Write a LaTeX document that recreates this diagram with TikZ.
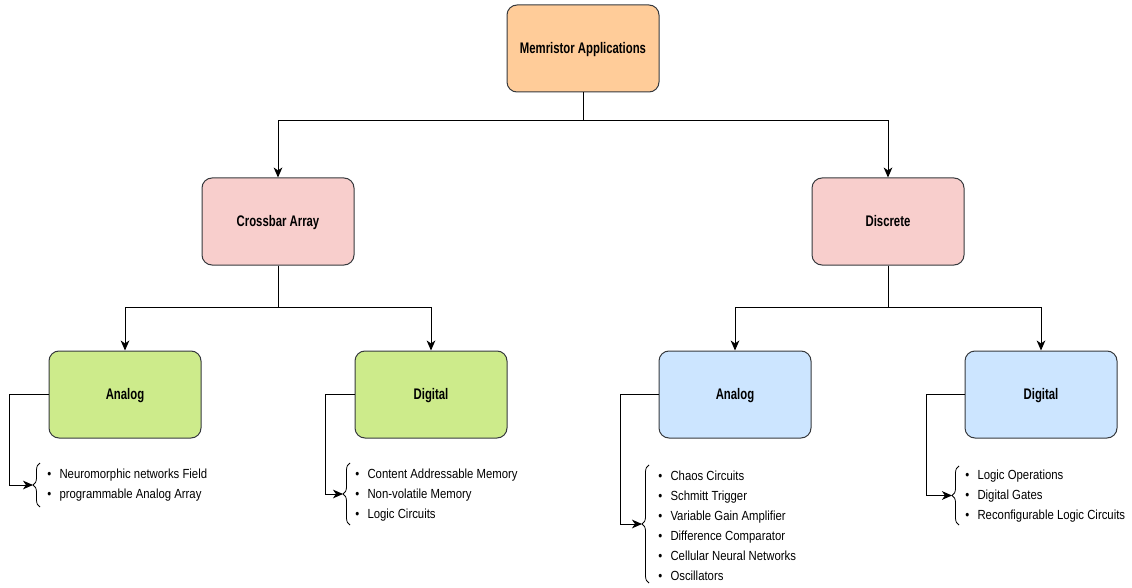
\documentclass[tikz,border=0pt]{standalone}
\usepackage{fontspec}
\setmainfont{Liberation Sans}
\newfontfamily\listfont[FakeStretch=0.86]{Liberation Sans}
\newfontfamily\headfont[FakeStretch=0.74]{Liberation Sans Bold}
\usetikzlibrary{arrows.meta,calc,decorations.pathreplacing}

\definecolor{boxline}{HTML}{36393D}
\definecolor{fillroot}{HTML}{FFCC99}
\definecolor{fillpink}{HTML}{F8CECC}
\definecolor{fillgreen}{HTML}{CDEB8B}
\definecolor{fillblue}{HTML}{CCE5FF}

\tikzset{
  catbox/.style={draw=boxline, line width=0.75pt, rounded corners=7.5pt,
    minimum width=114pt, minimum height=65.25pt, inner sep=0pt,
    text height=8.2pt, text depth=0pt,
    font=\headfont\fontsize{11.5}{13}\selectfont},
  link/.style={draw=black, line width=0.75pt,
    -{Stealth[length=7.5pt,width=6.5pt,inset=2.2pt]}},
  itemlist/.style={inner sep=0pt, align=left, anchor=west,
    font=\listfont\fontsize{9.9}{15}\selectfont},
  curly/.style={draw=black, line width=0.6pt, decorate,
    decoration={brace, amplitude=5.25pt}}
}
\newcommand{\itm}[1]{\textbullet\hspace{6.2pt}#1}

\begin{document}
\begin{tikzpicture}[x=0.75pt, y=-0.75pt]
\useasboundingbox (0,0) rectangle (1132,588);

% category boxes
\node[catbox, fill=fillroot]  (root) at (583,48.5)  {Memristor Applications};
\node[catbox, fill=fillpink]  (xbar) at (278,221.5) {Crossbar Array};
\node[catbox, fill=fillpink]  (disc) at (888,221.5) {Discrete};
\node[catbox, fill=fillgreen] (xa)   at (125,394.5) {Analog};
\node[catbox, fill=fillgreen] (xd)   at (431,394.5) {Digital};
\node[catbox, fill=fillblue]  (da)   at (735,394.5) {Analog};
\node[catbox, fill=fillblue]  (dd)   at (1041,394.5) {Digital};

% tree connectors
\draw[link] (root.south) -- ++(0,28) -| (xbar.north);
\draw[link] (root.south) -- ++(0,28) -| (disc.north);
\draw[link] (xbar.south) -- ++(0,42) -| (xa.north);
\draw[link] (xbar.south) -- ++(0,42) -| (xd.north);
\draw[link] (disc.south) -- ++(0,42) -| (da.north);
\draw[link] (disc.south) -- ++(0,42) -| (dd.north);

% item lists
\node[itemlist] (l1) at (47,485)
  {\itm{Neuromorphic networks Field}\\ \itm{programmable Analog Array}};
\node[itemlist] (l2) at (355,495)
  {\itm{Content Addressable Memory}\\ \itm{Non-volatile Memory}\\ \itm{Logic Circuits}};
\node[itemlist] (l3) at (658,526)
  {\itm{Chaos Circuits}\\ \itm{Schmitt Trigger}\\ \itm{Variable Gain Amplifier}\\
   \itm{Difference Comparator}\\ \itm{Cellular Neural Networks}\\ \itm{Oscillators}};
\node[itemlist] (l4) at (965,496)
  {\itm{Logic Operations}\\ \itm{Digital Gates}\\ \itm{Reconfigurable Logic Circuits}};

% braces grouping each list
\draw[curly] (40,507) -- (40,463);
\draw[curly] (350,525) -- (350,463);
\draw[curly] (649,583) -- (649,465);
\draw[curly] (959,525) -- (959,466);

% brace tips
\coordinate (b1) at (33,485);
\coordinate (b2) at (343,494);
\coordinate (b3) at (642,524);
\coordinate (b4) at (952,495.5);

% side connectors to the lists
\draw[link] (xa.west) -- ++(-39,0) |- (b1);
\draw[link] (xd.west) -- ++(-29,0) |- (b2);
\draw[link] (da.west) -- ++(-38,0) |- (b3);
\draw[link] (dd.west) -- ++(-38,0) |- (b4);
\end{tikzpicture}
\end{document}
